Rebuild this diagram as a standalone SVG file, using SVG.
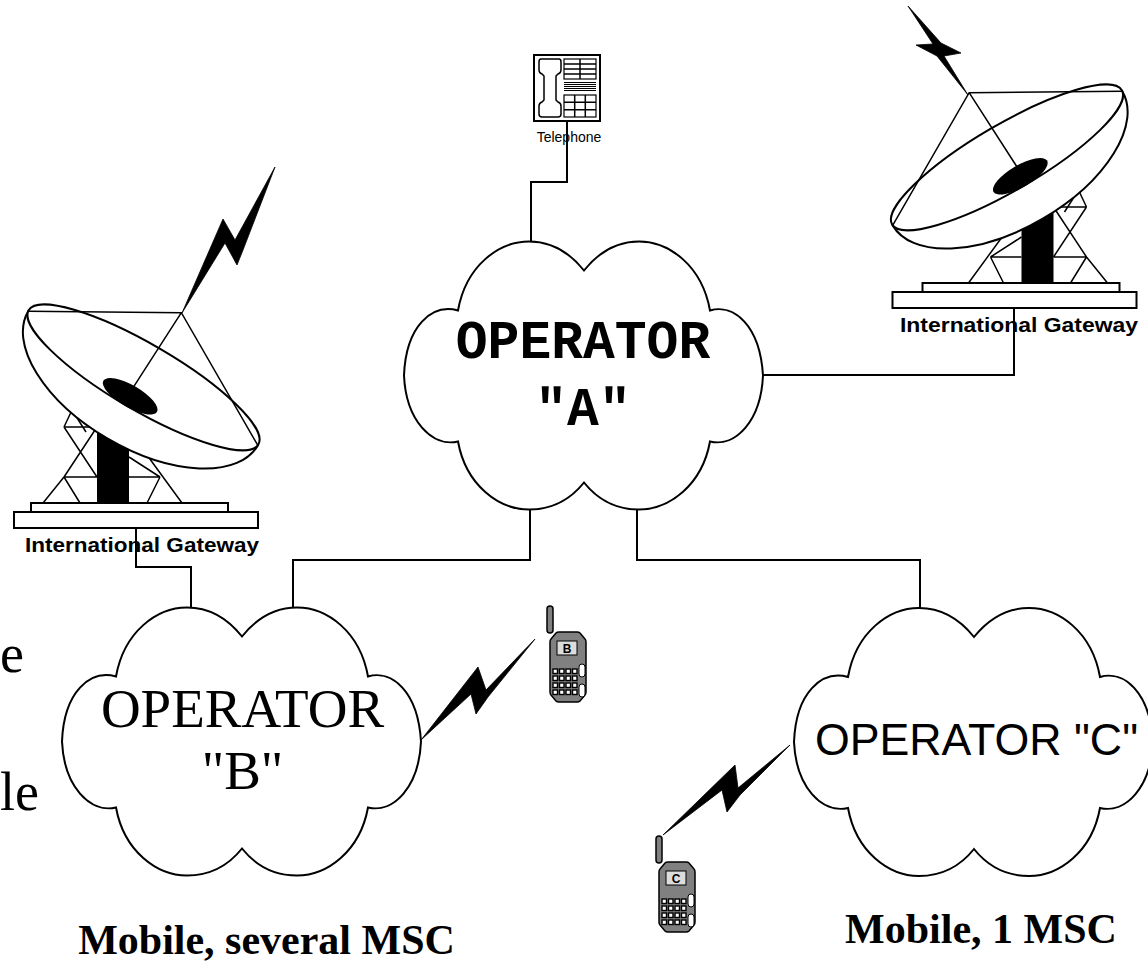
<svg xmlns="http://www.w3.org/2000/svg" xmlns:xlink="http://www.w3.org/1999/xlink" width="1148" height="965" viewBox="0 0 1148 965">
<style>
.ln{fill:none;stroke:#000;stroke-width:2}
.thin{fill:none;stroke:#000;stroke-width:1.5}
.cloud{fill:#fff;stroke:#000;stroke-width:2}
.bolt{fill:#000;stroke:#000;stroke-width:0.8;stroke-linejoin:round}
.gwtxt{font-family:"Liberation Sans",Arial,sans-serif;font-weight:bold;font-size:20px;fill:#000}
.serif{font-family:"Liberation Serif","Times New Roman",serif;fill:#000}
.key{fill:#fff;stroke:#000;stroke-width:1.4}
</style>
<defs>
  <path id="cloudShape" d="M-126,-65 C-118,-110 -85,-134 -55,-134 C-30,-134 -12,-120 0,-105 C12,-120 30,-134 55,-134 C85,-134 118,-110 126,-65 C150,-72 176,-50 179,0 C177,45 152,72 126,66 C118,110 85,134 55,134 C30,134 12,122 0,107 C-12,122 -30,134 -55,134 C-85,134 -118,110 -126,66 C-152,72 -178,45 -180,0 C-178,-50 -152,-72 -126,-65 Z"/>
  <g id="dish">
    <path d="M-133,-2 A133,70 0 0 0 133,-2 Z" fill="#fff" stroke="#000" stroke-width="2"/>
    <ellipse cx="0" cy="-3" rx="133" ry="33" fill="#fff" stroke="#000" stroke-width="2"/>
    <ellipse cx="-2" cy="20" rx="31" ry="11" fill="#000"/>
    <path class="thin" d="M-133,-2 L0,-78 L133,-2 M0,-78 L-4,14"/>
  </g>
  <g id="gwShape">
    <rect x="97" y="415" width="32" height="88" fill="#000"/>
    <path class="thin" d="M72,410 L64,427 M72,410 L86,432 M64,427 H97 M64,427 L97,477 M97,427 L64,477 M64,477 H97 M64,477 L43,503 M64,477 L80,503 M129,477 H160 M136,440 L182,503 M160,477 L147,503 M129,457 L160,477"/>
    <g transform="translate(142,380) rotate(30.3)"><use xlink:href="#dish"/></g>
    <rect x="31" y="503" width="197" height="9" fill="#fff" stroke="#000" stroke-width="2"/>
    <rect x="14" y="512" width="244" height="16" fill="#fff" stroke="#000" stroke-width="2"/>
  </g>
  <rect id="key" class="key" width="4.5" height="4.5"/>
  <g id="mobile">
    <rect x="-3" y="-26" width="6" height="27" rx="3" fill="#808080" stroke="#000" stroke-width="1.5"/>
    <path d="M9,0 H27 Q29,0 30,1 L35,7 Q36,8 36,10 V60 Q36,62 35,63 L30,69 Q29,70 27,70 H9 Q7,70 6,69 L1,63 Q0,62 0,60 V10 Q0,8 1,7 L6,1 Q7,0 9,0 Z" fill="#808080" stroke="#000" stroke-width="1.5"/>
    <rect x="7" y="9" width="20" height="14" fill="#dcdcdc" stroke="#000" stroke-width="1"/>
    <use xlink:href="#key" x="3" y="37"/><use xlink:href="#key" x="9.5" y="37"/><use xlink:href="#key" x="16" y="37"/><use xlink:href="#key" x="22.5" y="37"/>
    <use xlink:href="#key" x="3" y="44"/><use xlink:href="#key" x="9.5" y="44"/><use xlink:href="#key" x="16" y="44"/><use xlink:href="#key" x="22.5" y="44"/>
    <use xlink:href="#key" x="3" y="51"/><use xlink:href="#key" x="9.5" y="51"/><use xlink:href="#key" x="16" y="51"/><use xlink:href="#key" x="22.5" y="51"/>
    <use xlink:href="#key" x="3" y="58"/><use xlink:href="#key" x="9.5" y="58"/><use xlink:href="#key" x="16" y="58"/><use xlink:href="#key" x="22.5" y="58"/>
    <rect x="29" y="32" width="6" height="13" rx="3" fill="#fff" stroke="#000" stroke-width="1"/>
    <rect x="29" y="52" width="6" height="13" rx="3" fill="#fff" stroke="#000" stroke-width="1"/>
  </g>
</defs>
<rect width="1148" height="965" fill="#fff"/>

<g id="gateway-left">
  <use xlink:href="#gwShape"/>
  <polygon class="bolt" points="182,313 223,219 235,240 275,167 243,250 237,265 225,243"/>
  <text class="gwtxt" x="142" y="552" text-anchor="middle" textLength="234" lengthAdjust="spacingAndGlyphs">International Gateway</text>
</g>

<g id="gateway-right">
  <use xlink:href="#gwShape" transform="translate(1150.5,-220) scale(-1,1)"/>
  <polygon class="bolt" points="908,6 941,43 961,53 944,56 968,95 937,56 916,45 933,44"/>
  <text class="gwtxt" x="1019" y="332" text-anchor="middle" textLength="238" lengthAdjust="spacingAndGlyphs">International Gateway</text>
</g>

<g id="telephone">
  <rect x="534" y="55" width="66" height="66" fill="#fff" stroke="#000" stroke-width="2"/>
  <path d="M541,59 H559 Q561,59 561,62 V70 Q561,73 558,74 L556,76 V100 L558,102 Q561,103 561,106 V114 Q561,117 558,117 H542 Q539,117 539,114 V106 Q539,103 542,102 L544,100 V76 L542,74 Q539,73 539,70 V62 Q539,59 541,59 Z" fill="#fff" stroke="#000" stroke-width="1.5"/>
  <rect x="564" y="59" width="32" height="20" fill="#fff" stroke="#000" stroke-width="1.2"/>
  <path class="thin" d="M580,59 V79 M564,64 H596 M564,69 H596 M564,74 H596"/>
  <path d="M564,82.5 H596 M564,84.5 H596 M564,86.5 H596 M564,88.5 H596 M564,90.5 H596" stroke="#000" stroke-width="1" fill="none"/>
  <rect x="564" y="95" width="32" height="22" fill="#fff" stroke="#000" stroke-width="1.2"/>
  <path class="thin" d="M574.7,95 V117 M585.3,95 V117 M564,102.3 H596 M564,109.7 H596"/>
  <text x="569" y="142" text-anchor="middle" font-family="'Liberation Sans',Arial,sans-serif" font-size="14">Telephone</text>
</g>

<g id="operator-a">
  <use xlink:href="#cloudShape" class="cloud" transform="translate(584,375.5)"/>
  <text x="583" y="358" text-anchor="middle" font-family="'Liberation Mono','Courier New',monospace" font-weight="bold" font-size="53">OPERATOR</text>
  <text x="583" y="425" text-anchor="middle" font-family="'Liberation Mono','Courier New',monospace" font-weight="bold" font-size="53">"A"</text>
</g>

<g id="operator-b">
  <use xlink:href="#cloudShape" class="cloud" transform="translate(242,741.5)"/>
  <text class="serif" x="242.5" y="727" text-anchor="middle" font-size="55">OPERATOR</text>
  <text class="serif" x="242.5" y="789" text-anchor="middle" font-size="55">"B"</text>
</g>

<g id="operator-c">
  <use xlink:href="#cloudShape" class="cloud" transform="translate(974,742)"/>
  <text x="976.5" y="755" text-anchor="middle" font-family="'Liberation Sans',Arial,sans-serif" font-size="43.5" textLength="323" lengthAdjust="spacingAndGlyphs">OPERATOR "C"</text>
</g>

<g id="mobile-b">
  <polygon class="bolt" points="421,740 478,667 486,690 535,639 488,697 476,714 471,694"/>
  <use xlink:href="#mobile" transform="translate(550,632)"/>
  <text x="567" y="653" text-anchor="middle" font-family="'Liberation Sans',Arial,sans-serif" font-weight="bold" font-size="12">B</text>
</g>

<g id="mobile-c">
  <polygon class="bolt" points="663,835 735,765 738,788 790,745 740,795 727,812 722,790"/>
  <use xlink:href="#mobile" transform="translate(659,862)"/>
  <text x="676" y="883" text-anchor="middle" font-family="'Liberation Sans',Arial,sans-serif" font-weight="bold" font-size="12">C</text>
</g>

<g id="connectors">
  <path class="ln" d="M567,121 V182 H531 V242"/>
  <path class="ln" d="M763,375 H1014 V307"/>
  <path class="ln" d="M530,509 V560 H293 V608"/>
  <path class="ln" d="M637,509 V560 H920 V608"/>
  <path class="ln" d="M136,528 V567 H191 V608"/>
</g>

<g id="labels">
  <text class="serif" x="266.5" y="954" text-anchor="middle" font-weight="bold" font-size="42">Mobile, several MSC</text>
  <text class="serif" x="981" y="943" text-anchor="middle" font-weight="bold" font-size="42">Mobile, 1 MSC</text>
  <text class="serif" x="0" y="672" font-size="54">e</text>
  <text class="serif" x="0" y="810" font-size="54">le</text>
</g>
</svg>
